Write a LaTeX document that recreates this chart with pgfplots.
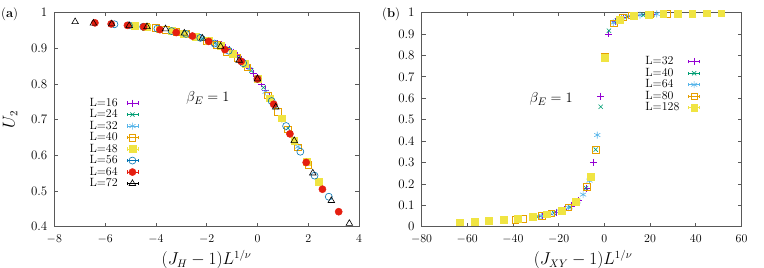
\documentclass[border=0pt]{standalone}
\usepackage{fontspec}
\usepackage{pgfplots}
\pgfplotsset{compat=1.18}
\definecolor{gpA}{HTML}{9400D3}
\definecolor{gpB}{HTML}{009E73}
\definecolor{gpC}{HTML}{56B4E9}
\definecolor{gpD}{HTML}{E69F00}
\definecolor{gpE}{HTML}{F0E442}
\definecolor{gpF}{HTML}{0072B2}
\definecolor{gpG}{HTML}{E51E10}
\pgfplotsset{
  gpbase/.style={
    scale only axis,
    height=214.2bp,
    axis line style={draw=black!65, line width=0.8bp},
    every tick/.style={black!65, line width=0.6bp},
    major tick length=4bp,
    tick align=inside,
    tick label style={font=\fontsize{13}{15}\selectfont, inner sep=1bp},
    xticklabel style={yshift=-7bp},
    yticklabel style={xshift=-5.8bp},
    every axis x label/.style={at={(axis description cs:0.5,-0.154)}, anchor=center,
      font=\fontsize{16}{18}\selectfont},
    every axis y label/.style={at={(axis description cs:-0.145,0.5)}, anchor=center, rotate=90,
      font=\fontsize{16}{18}\selectfont},
    legend cell align=left,
    legend plot pos=right,
    legend style={draw=none, fill=none, inner sep=0pt, outer sep=0pt, anchor=north west,
      font=\fontsize{12}{14}\selectfont,
      nodes={inner sep=0.5bp, text height=8.3bp, text depth=2.2bp},
      column sep=8.5bp, row sep=0pt},
    legend image code/.code={
      \draw[#1, mark=none, solid, line width=0.5bp] (0bp,0bp) -- (11bp,0bp)
         (0bp,-1.6bp) -- (0bp,1.6bp) (11bp,-1.6bp) -- (11bp,1.6bp);
      \draw[#1, only marks] plot coordinates {(5.5bp,0bp)};
    },
  },
  sA/.style={only marks, mark=+, color=gpA, mark size=3.5bp, mark options={line width=0.6bp}},
  sB/.style={only marks, mark=x, color=gpB, mark size=3bp, mark options={line width=0.6bp}},
  sC/.style={only marks, mark=asterisk, color=gpC, mark size=3.5bp, mark options={line width=0.6bp}},
  sD/.style={only marks, mark=square, color=gpD, mark size=3.3bp, mark options={line width=0.6bp}},
  sE/.style={only marks, mark=square*, color=gpE, mark size=3.4bp, mark options={fill=gpE, draw=gpE}},
  sF/.style={only marks, mark=o, color=gpF, mark size=3.5bp, mark options={line width=0.6bp}},
  sG/.style={only marks, mark=*, color=gpG, mark size=3.6bp, mark options={fill=gpG, draw=gpG}},
  sH/.style={only marks, mark=triangle, color=black, mark size=3.8bp, mark options={line width=0.6bp}},
}
\begin{document}
\fontsize{12}{14}\selectfont
\begin{tikzpicture}
\path[use as bounding box] (0bp,0bp) rectangle (764bp,268bp);
\node[anchor=west, inner sep=0pt, font=\fontsize{13}{15}\selectfont] at (1bp,254bp) {(\textbf{a})};
\node[anchor=west, inner sep=0pt, font=\fontsize{13}{15}\selectfont] at (382bp,254bp) {(\textbf{b})};

\begin{axis}[gpbase, at={(54.3bp,41.3bp)}, anchor=south west,
  width=304.7bp,
  xmin=-8, xmax=4, ymin=0.4, ymax=1,
  xtick={-8,-6,-4,-2,0,2,4},
  ytick={0.4,0.5,0.6,0.7,0.8,0.9,1},
  yticklabels={0.4,0.5,0.6,0.7,0.8,0.9,1},
  xlabel={$(J_H-1)L^{1/\nu}$},
  ylabel={$U_2$},
  legend style={at={(rel axis cs:0.114,0.604)}},
]
\addplot[sA] coordinates {(-1.76,0.917) (-1.60,0.913) (-1.44,0.909) (-1.28,0.902) (-1.12,0.896) (-0.96,0.889) (-0.80,0.880) (-0.64,0.869) (-0.48,0.857) (-0.32,0.845) (-0.16,0.830) (0,0.817) (0.16,0.800) (0.32,0.783) (0.48,0.765) (0.64,0.745)};
\addlegendentry{L=16}
\addplot[sB] coordinates {(-2.40,0.931) (-2.16,0.927) (-1.92,0.920) (-1.68,0.914) (-1.44,0.906) (-1.20,0.897) (-0.96,0.887) (-0.72,0.872) (-0.48,0.856) (-0.24,0.837) (0,0.815) (0.24,0.790) (0.48,0.763) (0.72,0.735) (0.96,0.706) (1.20,0.676)};
\addlegendentry{L=24}
\addplot[sC] coordinates {(-3.20,0.946) (-2.88,0.942) (-2.56,0.934) (-2.24,0.928) (-1.92,0.919) (-1.60,0.911) (-1.28,0.899) (-0.96,0.886) (-0.64,0.866) (-0.32,0.842) (0,0.814) (0.32,0.778) (0.64,0.742) (0.96,0.700) (1.28,0.662) (1.60,0.624)};
\addlegendentry{L=32}
\addplot[sD] coordinates {(-4.4,0.960) (-4.0,0.957) (-3.6,0.952) (-3.2,0.946) (-2.8,0.940) (-2.4,0.930) (-2.0,0.920) (-1.6,0.910) (-1.2,0.890) (-0.8,0.873) (-0.4,0.847) (0,0.814) (0.4,0.768) (0.8,0.722) (1.2,0.673) (1.6,0.622) (2.0,0.574)};
\addlegendentry{L=40}
\addplot[sE] coordinates {(-4.84,0.964) (-4.35,0.959) (-3.87,0.953) (-3.38,0.948) (-2.90,0.941) (-2.42,0.932) (-1.93,0.920) (-1.45,0.907) (-0.96,0.885) (-0.48,0.856) (0,0.814) (0.48,0.760) (0.96,0.704) (1.45,0.641) (1.93,0.581) (2.42,0.526)};
\addlegendentry{L=48}
\addplot[sF] coordinates {(-5.63,0.967) (-5.06,0.964) (-4.50,0.960) (-3.94,0.955) (-3.38,0.948) (-2.81,0.940) (-2.25,0.929) (-1.69,0.913) (-1.13,0.893) (-0.56,0.858) (0,0.814) (0.56,0.752) (1.13,0.682) (1.69,0.610) (2.25,0.543) (2.81,0.484)};
\addlegendentry{L=56}
\addplot[sG] coordinates {(-6.40,0.971) (-5.76,0.968) (-5.12,0.964) (-4.48,0.960) (-3.84,0.952) (-3.20,0.944) (-2.56,0.934) (-1.92,0.919) (-1.28,0.896) (-0.64,0.863) (0,0.814) (0.64,0.743) (1.28,0.660) (1.92,0.580) (2.56,0.505) (3.20,0.442)};
\addlegendentry{L=64}
\addplot[sH] coordinates {(-7.18,0.974) (-6.46,0.970) (-5.74,0.968) (-5.05,0.963) (-4.35,0.960) (-3.62,0.954) (-2.88,0.942) (-2.17,0.928) (-1.45,0.905) (-0.72,0.866) (0,0.814) (0.72,0.735) (1.45,0.641) (2.18,0.550) (2.91,0.473) (3.62,0.409)};
\addlegendentry{L=72}
\node[font=\fontsize{15}{17}\selectfont] at (rel axis cs:0.504,0.601) {$\beta_E = 1$};
\end{axis}

\begin{axis}[gpbase, at={(421.5bp,41.3bp)}, anchor=south west,
  width=320bp,
  xmin=-80, xmax=60, ymin=0, ymax=1,
  xtick={-80,-60,-40,-20,0,20,40,60},
  ytick={0,0.1,0.2,0.3,0.4,0.5,0.6,0.7,0.8,0.9,1},
  yticklabels={0,0.1,0.2,0.3,0.4,0.5,0.6,0.7,0.8,0.9,1},
  xlabel={$(J_{XY}-1)L^{1/\nu}$},
  every axis x label/.append style={at={(axis description cs:0.505,-0.154)}},
  legend style={at={(rel axis cs:0.698,0.797)}},
]
\addplot[sA] coordinates {(-27.3,0.049) (-24.1,0.058) (-20.9,0.068) (-17.7,0.080) (-14.5,0.097) (-11.3,0.122) (-8.0,0.180) (-4.8,0.300) (-1.6,0.610) (1.7,0.900) (4.9,0.960) (8.1,0.977) (11.3,0.984) (14.5,0.988) (17.7,0.990) (20.9,0.992)};
\addlegendentry{L=32}
\addplot[sB] coordinates {(-29,0.047) (-25.5,0.056) (-22,0.064) (-18.5,0.077) (-15,0.092) (-11.5,0.120) (-8,0.180) (-6.0,0.237) (-3.8,0.360) (-1.6,0.560) (2.0,0.915) (5.5,0.962) (9.8,0.980) (13.5,0.986) (17,0.989) (21,0.991)};
\addlegendentry{L=40}
\addplot[sC] coordinates {(-31,0.045) (-27.4,0.050) (-23.5,0.061) (-19.6,0.072) (-15.8,0.089) (-12,0.115) (-9.3,0.150) (-6.5,0.215) (-3.1,0.428) (0.4,0.790) (3.9,0.952) (7.5,0.972) (11.5,0.983) (15.6,0.988) (19.5,0.991) (22.9,0.993)};
\addlegendentry{L=64}
\addplot[sD] coordinates {(-39.0,0.032) (-35.5,0.036) (-27.5,0.050) (-23.2,0.062) (-15.8,0.090) (-7.8,0.187) (-3.7,0.360) (0.2,0.792) (4.0,0.950) (8.0,0.978) (12,0.986) (20,0.992) (27.5,0.994)};
\addlegendentry{L=80}
\addplot[sE] coordinates {(-63.2,0.021) (-56.8,0.024) (-50.5,0.027) (-44.1,0.031) (-37.8,0.036) (-31.4,0.046) (-25.1,0.058) (-18.7,0.073) (-12.4,0.118) (-6.0,0.235) (0.3,0.790) (6.7,0.967) (13.0,0.985) (19.4,0.990) (25.7,0.994) (32.1,0.995) (38.4,0.996) (44.8,0.997) (51.1,0.997)};
\addlegendentry{L=128}
\node[font=\fontsize{15}{17}\selectfont] at (rel axis cs:0.405,0.596) {$\beta_E = 1$};
\end{axis}
\end{tikzpicture}
\end{document}
